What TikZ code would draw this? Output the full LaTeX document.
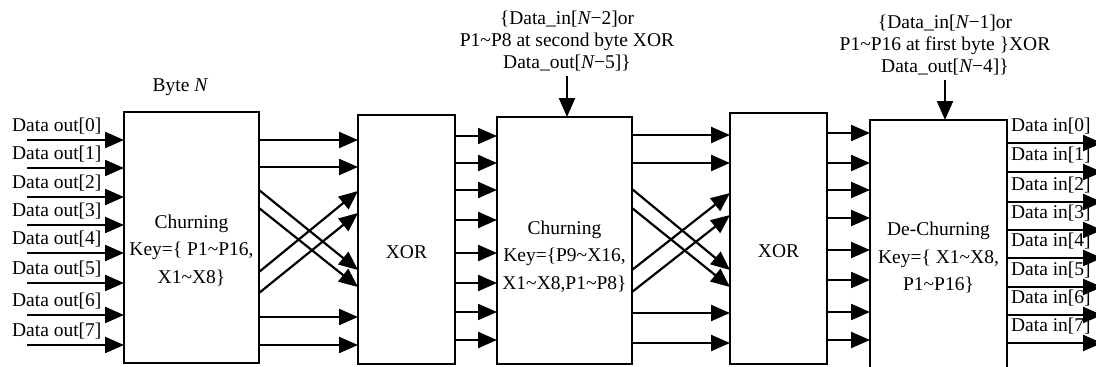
\documentclass[tikz,border=0pt]{standalone}
\usepackage{fontspec}
\setmainfont{Liberation Serif}
\usetikzlibrary{arrows.meta}
\def\tl{\textasciitilde}
\def\N{{\itshape N}}

\begin{document}
\begin{tikzpicture}[x=1pt,y=-1pt,line width=2.2pt,
    font=\fontsize{19.5}{27.5}\selectfont,
    box/.style={draw,inner sep=0pt,outer sep=0pt},
    keytext/.style={align=center,inner sep=0pt},
    toplbl/.style={align=center,font=\fontsize{19.5}{22}\selectfont},
    sig/.style={-{Triangle[length=19pt,width=16pt]}}]
    \useasboundingbox (0,0) rectangle (1096,367);

    \node[box,minimum width=135pt,minimum height=251pt] (churn1) at (191.5,237.5) {};
    \node[box,minimum width=97pt,minimum height=249pt] (xor1) at (406.5,239.5) {};
    \node[box,minimum width=135pt,minimum height=247pt] (churn2) at (564.5,240.5) {};
    \node[box,minimum width=97pt,minimum height=251pt] (xor2) at (778.5,238.5) {};
    \node[box,minimum width=137pt,minimum height=250pt] (dechurn) at (938.5,245) {};

    \node[keytext] at ([yshift=-13pt]churn1.center) {Churning\\Key=\{ P1\tl P16,\\X1\tl X8\}};
    \node[keytext] at ([yshift=-13pt]xor1.center) {XOR};
    \node[keytext] at ([yshift=-16pt]churn2.center) {Churning\\Key=\{P9\tl X16,\\X1\tl X8,P1\tl P8\}};
    \node[keytext] at ([yshift=-13pt]xor2.center) {XOR};
    \node[keytext] at ([yshift=-13pt]dechurn.center) {De-Churning\\Key=\{ X1\tl X8,\\P1\tl P16\}};

    \node (byteN) at (180,87) {Byte \N};
    \node[toplbl] (keyA) at (567,41) {\{Data\_in[\N−2]or\\P1\tl P8 at second byte XOR\\Data\_out[\N−5]\}};
    \node[toplbl] (keyB) at (945,45) {\{Data\_in[\N−1]or\\P1\tl P16 at first byte \}XOR\\Data\_out[\N−4]\}};
    \draw[sig] (keyA.south) -- (keyA.south |- churn2.north);
    \draw[sig] (keyB.south) -- (keyB.south |- dechurn.north);

    \foreach \i/\y in {0/140,1/168,2/197,3/225,4/253,5/283,6/315,7/345} {
        \coordinate (in\i) at (27,\y);
        \node[anchor=base west,inner sep=0pt] (dout\i) at (11,\y-9) {Data out[\i]};
        \draw[sig] (in\i) -- (in\i -| churn1.west);
    }
    \foreach \ya/\yb in {140/140,167/167,190/270,208/287,272/191,293/213,317/317,345/345}
        \draw[sig] (churn1.east |- 0,\ya) -- (xor1.west |- 0,\yb);
    \foreach \y in {136,163,190,220,253,283,312,340}
        \draw[sig] (xor1.east |- 0,\y) -- (churn2.west |- 0,\y);
    \foreach \ya/\yb in {135/135,163/163,189/270,208/287,270/193,292/215,313/313,343/343}
        \draw[sig] (churn2.east |- 0,\ya) -- (xor2.west |- 0,\yb);
    \foreach \y in {133,163,190,218,250,280,312,340}
        \draw[sig] (xor2.east |- 0,\y) -- (dechurn.west |- 0,\y);
    \foreach \i/\y in {0/143,1/172,2/202,3/230,4/258,5/287,6/315,7/343} {
        \coordinate (out\i) at (1102,\y);
        \node[anchor=base west,inner sep=0pt] (din\i) at (1010,\y-11.5) {Data in[\i]};
        \draw[sig] (out\i -| dechurn.east) -- (out\i);
    }
\end{tikzpicture}
\end{document}
